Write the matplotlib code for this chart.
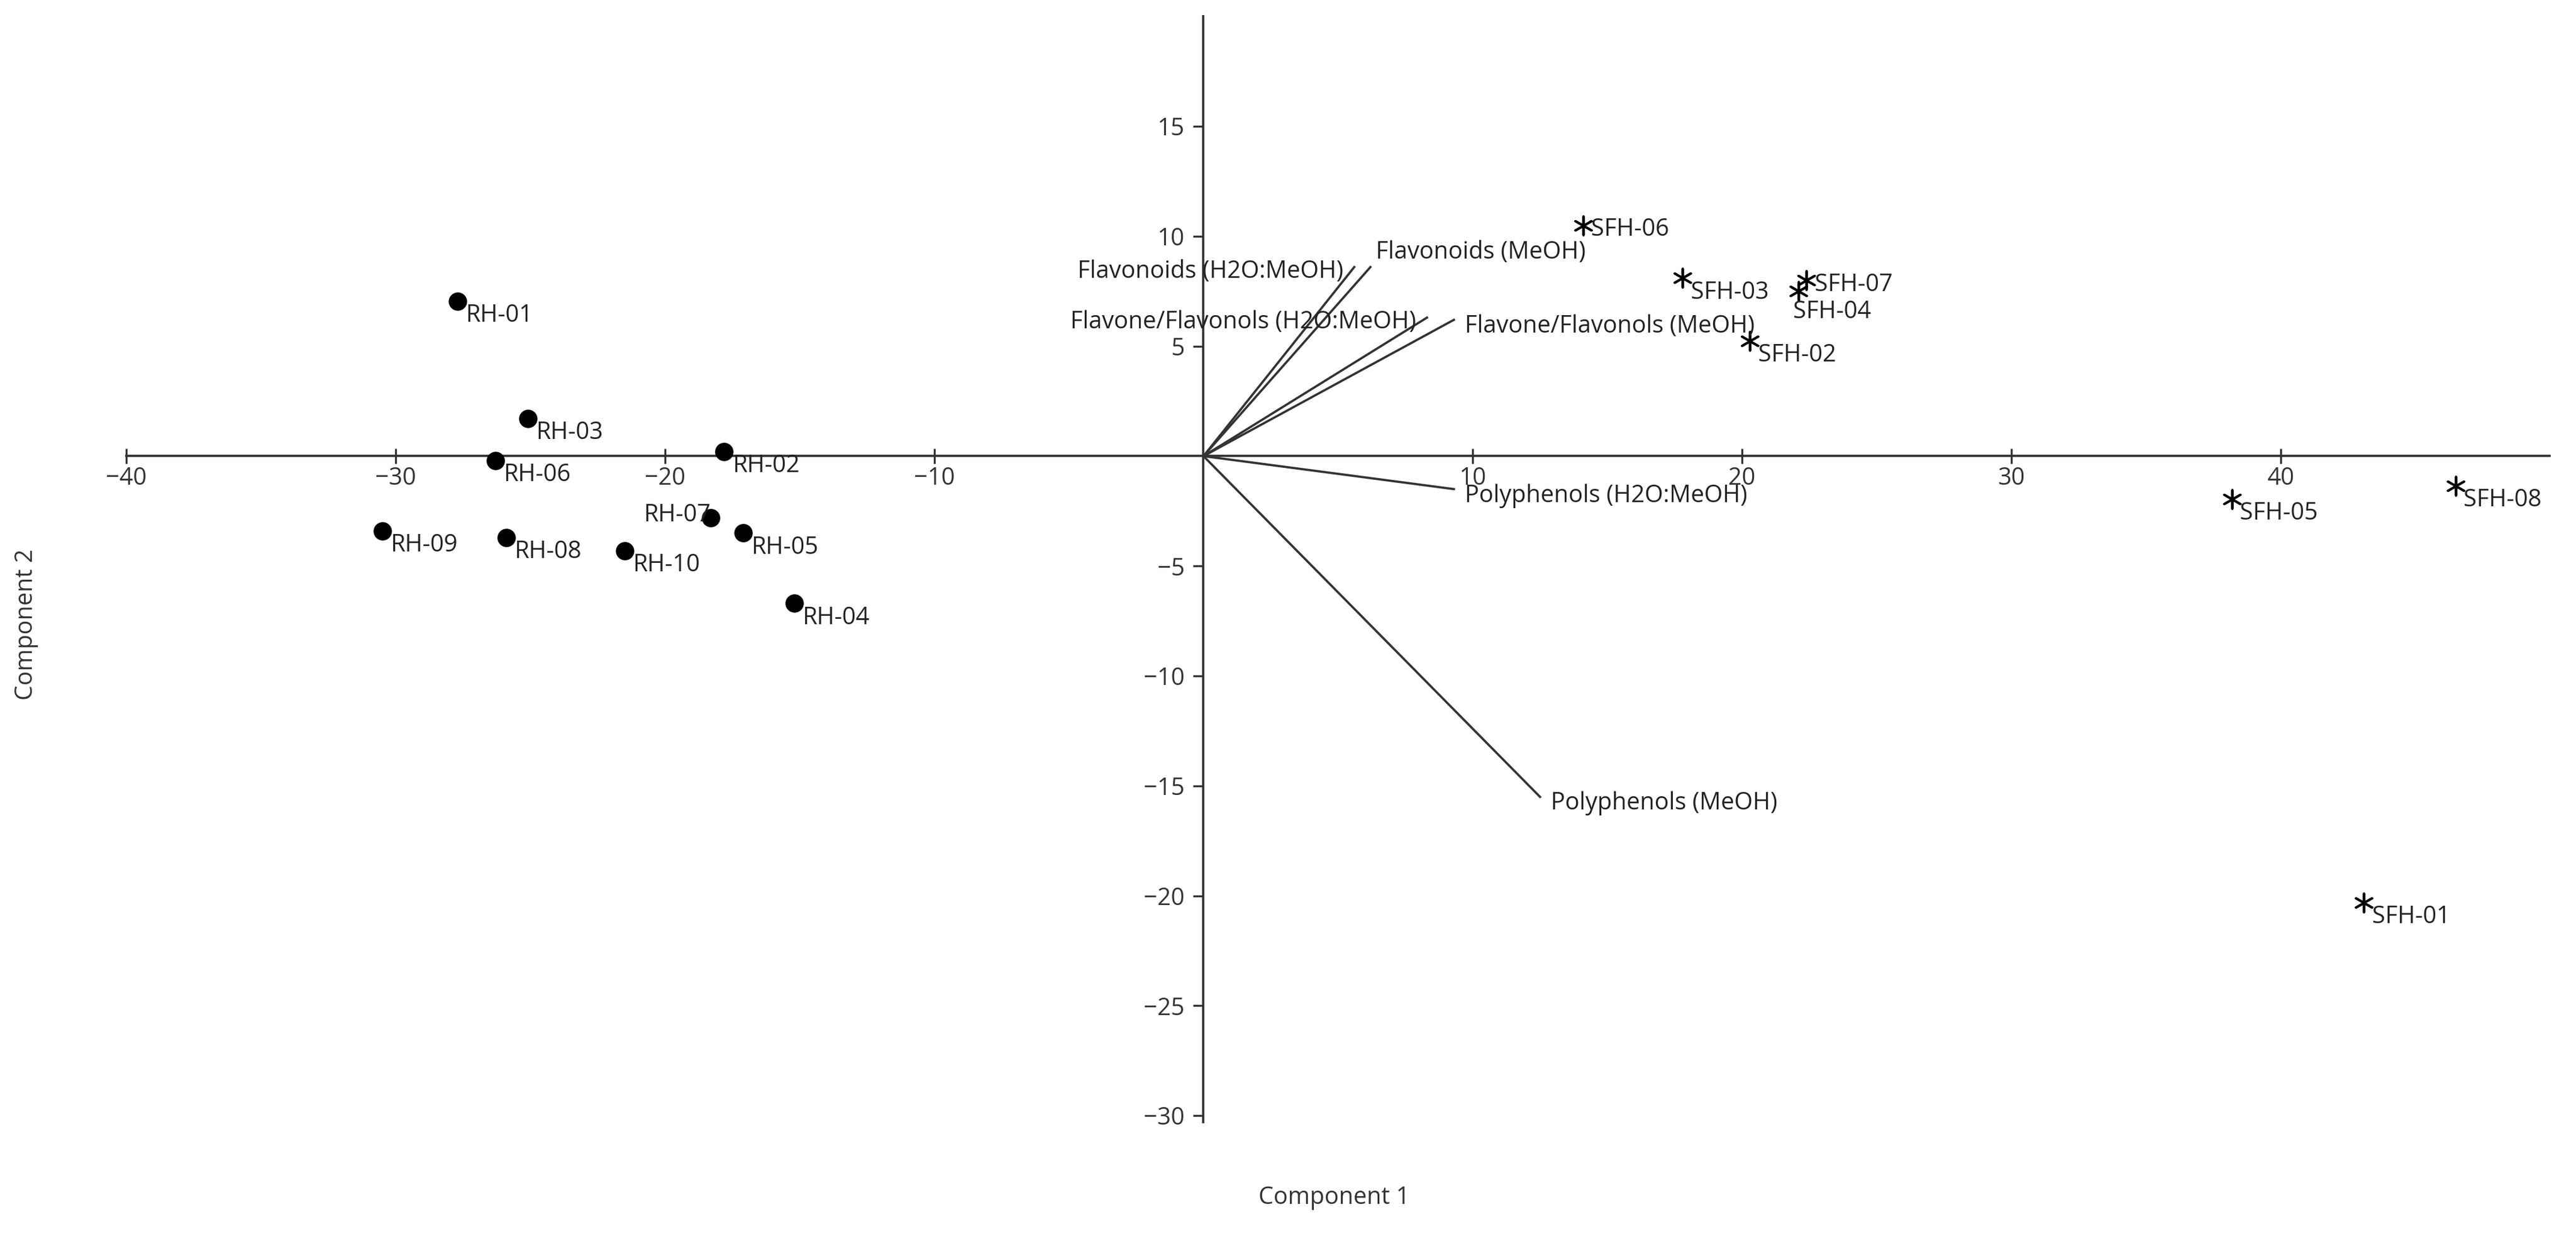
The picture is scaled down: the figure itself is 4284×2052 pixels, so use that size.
import matplotlib
matplotlib.use("Agg")
import matplotlib.pyplot as plt

plt.rcParams['font.family'] = ['Open Sans', 'DejaVu Sans']

rh_names = ['RH-01', 'RH-02', 'RH-03', 'RH-04', 'RH-05', 'RH-06', 'RH-07', 'RH-08', 'RH-09', 'RH-10']
rh_x = [-27.7, -17.8, -25.1, -15.2, -17.1, -26.3, -18.3, -25.9, -30.5, -21.5]
rh_y = [7.05, 0.2, 1.7, -6.7, -3.5, -0.2, -2.8, -3.7, -3.4, -4.3]

sfh_names = ['SFH-01', 'SFH-02', 'SFH-03', 'SFH-04', 'SFH-05', 'SFH-06', 'SFH-07', 'SFH-08']
sfh_x = [43.1, 20.3, 17.8, 22.1, 38.2, 14.1, 22.4, 46.5]
sfh_y = [-20.3, 5.25, 8.1, 7.5, -1.95, 10.5, 8.0, -1.35]

load_names = ['Flavonoids (H2O:MeOH)', 'Flavonoids (MeOH)',
              'Flavone/Flavonols (H2O:MeOH)', 'Flavone/Flavonols (MeOH)',
              'Polyphenols (H2O:MeOH)', 'Polyphenols (MeOH)']
load_x = [5.6, 6.2, 8.3, 9.3, 9.3, 12.5]
load_y = [8.6, 8.6, 6.3, 6.2, -1.5, -15.5]

fig = plt.figure(figsize=(14.28, 6.84), dpi=300)
ax = fig.add_axes([77/1568, 1-683/751, (1552-77)/1568, (683-10)/751])

ax.scatter(rh_x, rh_y, s=40, c='black', zorder=3)
ax.scatter(sfh_x, sfh_y, s=55, c='black', marker=(6, 2, 0), linewidths=0.9, zorder=3)

lab_kw = dict(fontsize=9.5, color='#222222')
for n, x, y in zip(rh_names, rh_x, rh_y):
    if n == 'RH-07':
        ax.text(x, y + 0.1, n, ha='right', va='center', **lab_kw)
    else:
        ax.text(x + 0.3, y - 0.1, n, ha='left', va='top', **lab_kw)
for n, x, y in zip(sfh_names, sfh_x, sfh_y):
    if n == 'SFH-04':
        ax.text(x - 0.2, y - 0.4, n, ha='left', va='top', **lab_kw)
    elif n == 'SFH-06' or n == 'SFH-07':
        ax.text(x + 0.3, y - 0.2, n, ha='left', va='center', **lab_kw)
    else:
        ax.text(x + 0.3, y - 0.1, n, ha='left', va='top', **lab_kw)

for n, x, y in zip(load_names, load_x, load_y):
    ax.plot([0, x], [0, y], color='#333333', lw=0.9)
    if n in ('Flavonoids (H2O:MeOH)', 'Flavone/Flavonols (H2O:MeOH)'):
        ax.text(x - 0.4, y - 0.2, n, ha='right', va='center', **lab_kw)
    elif n.startswith('Flavonoids'):
        ax.text(x + 0.2, y + 0.1, n, ha='left', va='bottom', **lab_kw)
    else:
        ax.text(x + 0.4, y - 0.3, n, ha='left', va='center', **lab_kw)

ax.set_xlim(-40, 50)
ax.set_ylim(-30.3, 20)
ax.spines['left'].set_position(('data', 0))
ax.spines['bottom'].set_position(('data', 0))
ax.spines['right'].set_visible(False)
ax.spines['top'].set_visible(False)
for s in ('left', 'bottom'):
    ax.spines[s].set_color('#333333')
    ax.spines[s].set_linewidth(0.9)
ax.set_xticks([-40, -30, -20, -10, 10, 20, 30, 40])
ax.set_yticks([-30, -25, -20, -15, -10, -5, 5, 10, 15])
ax.tick_params(axis='x', direction='inout', length=6, labelsize=9.5, colors='#333333', pad=1)
ax.tick_params(axis='y', direction='out', length=4, labelsize=9.5, colors='#333333')

fig.text(812/1568, 1-729/751, 'Component 1', ha='center', va='center', fontsize=9.5, color='#333333')
fig.text(16/1568, 1-380/751, 'Component 2', ha='center', va='center', rotation=90, fontsize=9.5, color='#333333')

fig.savefig('out.png', dpi=300, facecolor='white')
